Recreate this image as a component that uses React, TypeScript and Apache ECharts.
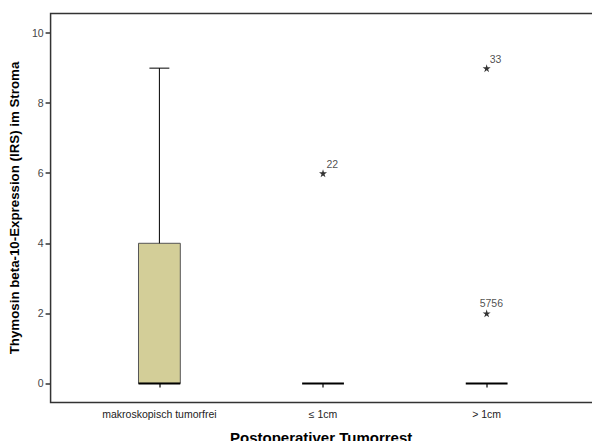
import React, { useEffect, useRef } from "react";
import * as echarts from "echarts";

const categories = ["makroskopisch tumorfrei", "≤ 1cm", "> 1cm"];
// [position, min, q1, median, q3, max]
const boxStats = [
  [1, 0, 0, 0, 4, 9],
  [2, 0, 0, 0, 0, 0],
  [3, 0, 0, 0, 0, 0],
];
// extreme values: [position, value, case label]
const extremes: [number, number, string][] = [
  [2, 6, "22"],
  [3, 9, "33"],
  [3, 2, "5756"],
];
const extremeLabelOffsets: [number, number][] = [
  [3.5, -9],
  [3, -9],
  [-7, -10],
];
const yTicks = [0, 2, 4, 6, 8, 10];
const xTicks = [1, 2, 3];

const FONT = "'Liberation Sans', Arial, sans-serif";
const STAR =
  "path://M50,0 L61,35 L98,35 L68,57 L79,91 L50,70 L21,91 L32,57 L2,35 L39,35 Z";

export default function App() {
  const ref = useRef<HTMLDivElement>(null);
  useEffect(() => {
    if (!ref.current) return;
    const chart = echarts.init(ref.current, null, { renderer: "svg" });
    chart.setOption({
      animation: false,
      backgroundColor: "#ffffff",
      grid: {
        left: 48,
        right: 8,
        top: 13.5,
        bottom: 38.5,
        show: true,
        borderColor: "#333333",
        borderWidth: 1.5,
        backgroundColor: "transparent",
      },
      xAxis: {
        type: "value",
        min: 0.335,
        max: 3.766,
        axisLine: { show: false },
        splitLine: { show: false },
        axisTick: {
          show: true,
          length: 4,
          customValues: xTicks,
          lineStyle: { color: "#333", width: 1.5 },
        },
        axisLabel: {
          customValues: xTicks,
          formatter: (v: number) => categories[Math.round(v) - 1] ?? "",
          fontFamily: FONT,
          fontSize: 10.5,
          color: "#222",
          margin: 6,
        },
      },
      yAxis: {
        type: "value",
        min: -0.545,
        max: 10.56,
        name: "Thymosin beta-10-Expression (IRS) im Stroma",
        nameLocation: "middle",
        nameGap: 25,
        nameTextStyle: {
          fontFamily: FONT,
          fontWeight: "bold",
          fontSize: 13.3,
          color: "#000",
        },
        axisLine: { show: false },
        splitLine: { show: false },
        axisTick: {
          show: true,
          length: 5,
          customValues: yTicks,
          lineStyle: { color: "#333", width: 1.5 },
        },
        axisLabel: {
          customValues: yTicks,
          fontFamily: FONT,
          fontSize: 10.5,
          color: "#444",
          margin: 7,
        },
      },
      graphic: [
        {
          type: "text",
          left: 322 - 92,
          top: 430,
          style: {
            text: "Postoperativer Tumorrest",
            font: `bold 15px ${FONT}`,
            fill: "#000",
          },
        },
      ],
      series: [
        {
          type: "custom",
          data: boxStats,
          encode: { x: 0, y: [1, 2, 3, 4, 5] },
          renderItem: (params: any, api: any) => {
            const x = api.value(0);
            const mn = api.value(1);
            const q1 = api.value(2);
            const md = api.value(3);
            const q3 = api.value(4);
            const mx = api.value(5);
            const unit = api.size([1, 0])[0];
            const bw = unit * 0.2555;
            const cw = unit * 0.1217;
            const pMin = api.coord([x, mn]);
            const pQ1 = api.coord([x, q1]);
            const pMd = api.coord([x, md]);
            const pQ3 = api.coord([x, q3]);
            const pMax = api.coord([x, mx]);
            const cx = pMd[0];
            const children: any[] = [];
            if (pQ1[1] - pQ3[1] > 0.5) {
              children.push({
                type: "rect",
                shape: { x: cx - bw / 2, y: pQ3[1], width: bw, height: pQ1[1] - pQ3[1] },
                style: { fill: "#d3ce98", stroke: "#555", lineWidth: 1 },
              });
            }
            if (pQ3[1] - pMax[1] > 0.5) {
              children.push({
                type: "line",
                shape: { x1: cx, y1: pQ3[1], x2: cx, y2: pMax[1] },
                style: { stroke: "#000", lineWidth: 1 },
              });
              children.push({
                type: "line",
                shape: { x1: cx - cw / 2, y1: pMax[1], x2: cx + cw / 2, y2: pMax[1] },
                style: { stroke: "#000", lineWidth: 1 },
              });
            }
            if (pMin[1] - pQ1[1] > 0.5) {
              children.push({
                type: "line",
                shape: { x1: cx, y1: pQ1[1], x2: cx, y2: pMin[1] },
                style: { stroke: "#000", lineWidth: 1 },
              });
              children.push({
                type: "line",
                shape: { x1: cx - cw / 2, y1: pMin[1], x2: cx + cw / 2, y2: pMin[1] },
                style: { stroke: "#000", lineWidth: 1 },
              });
            }
            children.push({
              type: "line",
              shape: { x1: cx - bw / 2, y1: pMd[1], x2: cx + bw / 2, y2: pMd[1] },
              style: { stroke: "#000", lineWidth: 2 },
            });
            return { type: "group", children };
          },
          z: 2,
        },
        {
          type: "scatter",
          symbol: STAR,
          symbolSize: 8,
          itemStyle: { color: "#000" },
          data: extremes.map((e, i) => ({
            value: [e[0], e[1]],
            label: {
              show: true,
              formatter: e[2],
              position: "inside",
              align: "left",
              verticalAlign: "middle",
              offset: extremeLabelOffsets[i],
              fontFamily: FONT,
              fontSize: 10.5,
              color: "#222",
            },
          })),
          z: 3,
        },
      ],
    });
    return () => chart.dispose();
  }, []);
  return (
    <div
      ref={ref}
      style={{ position: "fixed", left: 0, top: 0, width: 620, height: 441 }}
    />
  );
}
